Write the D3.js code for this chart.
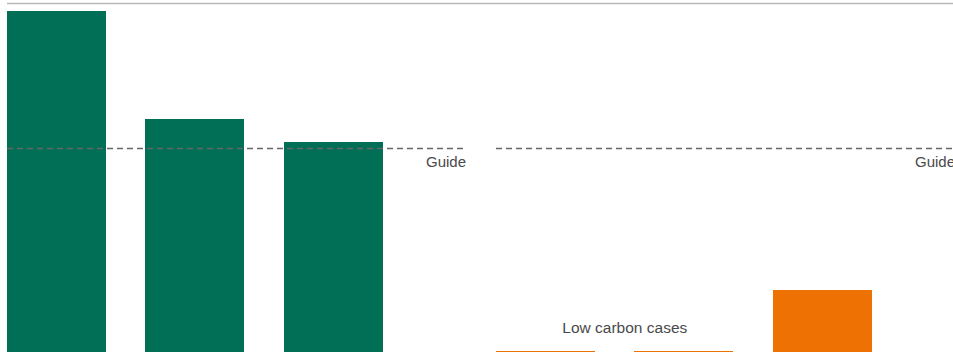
<!DOCTYPE html>
<html>
<head>
<meta charset="utf-8">
<script src="https://cdn.jsdelivr.net/npm/d3@7"></script>
<style>
  body { margin: 0; background: #fff; }
  svg { display: block; }
  text { font-family: "Liberation Sans", Arial, sans-serif; }
</style>
</head>
<body>
<svg></svg>
<script>
// data
var panels = ["left", "right"];
var leftCats = ["A", "B", "C"];
var leftValues = [98, 67, 60.3];
var rightCats = ["D", "E", "F"];
var rightValues = [0.3, 0.3, 17.8];
var guideValue = 58.6;
var guideLabel = "Guide";
var lowCarbonLabel = "Low carbon cases";

var width = 953;
var height = 358;

var svg = d3.select("svg")
    .attr("width", width)
    .attr("height", height);

// scales
var yScale = d3.scaleLinear()
    .domain([0, 100])
    .range([352, 4]);

var panelScale = d3.scaleBand()
    .domain(panels)
    .range([7, 955])
    .paddingInner(30 / 489);

var xScale = d3.scaleBand()
    .domain([0, 1, 2])
    .range([0, 376])
    .paddingInner(39 / 138);

// top rule
svg.append("line")
    .attr("x1", 7)
    .attr("x2", width)
    .attr("y1", 3.5)
    .attr("y2", 3.5)
    .attr("stroke", "#b8b8b8")
    .attr("stroke-width", 1.6);

var data = [
  { panel: "left", cats: leftCats, values: leftValues, color: "#006F56" },
  { panel: "right", cats: rightCats, values: rightValues, color: "#EE7203" }
];

data.forEach(function(p) {
  var g = svg.append("g")
      .attr("transform", "translate(" + panelScale(p.panel) + ",0)");

  g.selectAll("rect")
    .data(p.values)
    .enter()
      .append("rect")
      .attr("x", (d, i) => Math.round(xScale(i)))
      .attr("y", d => Math.round(yScale(d)))
      .attr("width", Math.round(xScale.bandwidth()))
      .attr("height", d => Math.max(1, Math.round(yScale(0) - yScale(d))))
      .attr("fill", p.color)
      .attr("shape-rendering", "crispEdges");

  // guide line
  g.append("line")
    .attr("x1", 0)
    .attr("x2", panelScale.bandwidth())
    .attr("y1", Math.round(yScale(guideValue)) + 0.5)
    .attr("y2", Math.round(yScale(guideValue)) + 0.5)
    .attr("stroke", "#666")
    .attr("stroke-width", 1.4)
    .attr("stroke-dasharray", "6,4");

  g.append("text")
    .attr("x", panelScale.bandwidth())
    .attr("y", yScale(guideValue) + 19)
    .attr("text-anchor", "end")
    .attr("font-size", 15)
    .attr("fill", "#4a4a4a")
    .text(guideLabel);
});

// label over the two low carbon cases
svg.append("text")
    .attr("x", panelScale("right") + (xScale(0) + xScale(1) + xScale.bandwidth()) / 2 + 10)
    .attr("y", 333)
    .attr("text-anchor", "middle")
    .attr("font-size", 15.5)
    .attr("fill", "#4a4a4a")
    .text(lowCarbonLabel);
</script>
</body>
</html>
